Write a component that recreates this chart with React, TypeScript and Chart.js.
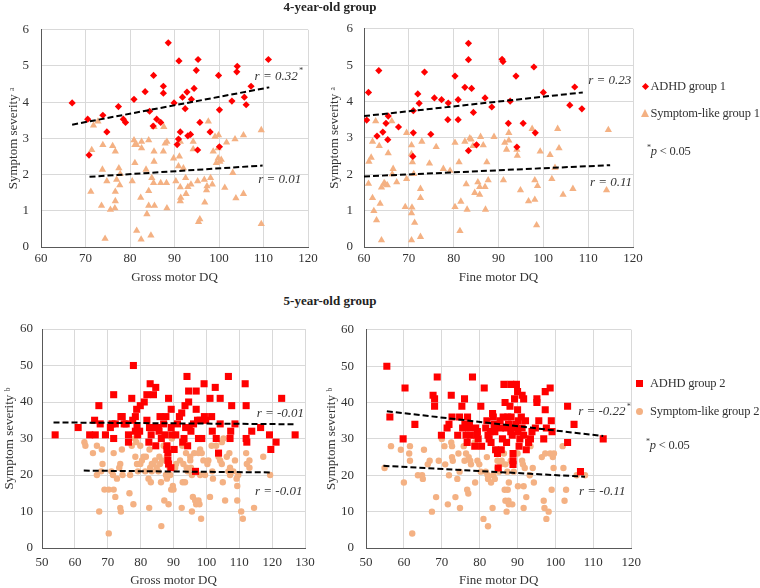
import React, { useEffect, useRef } from "react";
import { Chart, registerables } from "chart.js";

Chart.register(...registerables);
Chart.defaults.font.family = "'Liberation Serif', 'Times New Roman', serif";

// ---------------- DATA ----------------
const adhd4Gross: [number, number][] = [
  [67.0,3.98],[70.5,3.53],[70.8,2.54],[73.9,3.64],[74.8,3.18],[77.4,3.88],[78.5,3.53],[79.0,3.44],[80.9,4.08],[83.4,4.29],
  [84.4,3.75],[85.3,4.74],[85.2,3.34],[86.0,3.53],[86.9,3.44],[87.5,4.44],[87.5,4.25],[88.6,5.64],[89.9,3.98],[90.6,2.83],
  [90.9,2.98],[91.0,5.14],[91.3,3.18],[91.8,4.14],[92.4,3.82],[92.8,4.28],[93.0,3.07],[93.6,3.11],[93.8,4.08],[94.4,4.38],
  [94.9,4.88],[95.2,2.68],[95.3,5.18],[95.7,3.44],[98.0,3.18],[99.9,4.74],[100.1,3.79],[100.1,2.77],[102.9,4.03],[104.1,4.99],
  [104.0,4.84],[105.7,4.14],[106.1,3.93],[107.2,4.44],[111.1,5.18]
];
const sym4Gross: [number, number][] = [
  [71.8,3.36],[72.8,3.47],[71.4,2.68],[71.2,1.53],[73.9,2.82],[73.8,2.14],[73.6,1.14],[74.4,0.23],[74.8,1.82],[75.6,1.03],
  [76.1,2.79],[76.7,2.64],[76.7,1.53],[76.7,1.27],[76.6,1.07],[77.0,1.86],[77.5,2.18],[77.8,2.02],[77.7,1.71],[80.5,1.82],
  [80.9,2.95],[81.1,2.82],[81.5,2.82],[81.1,2.32],[81.5,0.45],[82.4,1.36],[82.6,2.91],[82.6,2.73],[82.5,0.21],[83.6,2.14],
  [83.8,0.91],[84.2,2.95],[84.2,1.55],[84.2,1.14],[84.7,0.32],[84.9,1.91],[85.3,1.77],[85.4,3.32],[85.4,2.64],[85.4,2.36],
  [85.5,1.14],[86.9,1.77],[87.5,2.64],[87.6,3.32],[87.9,2.86],[88.3,2.91],[88.2,1.77],[88.3,1.07],[89.8,2.45],[90.3,1.82],
  [91.1,2.50],[90.9,2.23],[91.3,2.91],[91.3,1.65],[91.4,1.36],[91.3,1.27],[92.0,2.18],[92.5,1.91],[92.6,1.47],[93.0,1.66],
  [93.7,1.73],[94.2,2.91],[94.2,2.70],[95.2,1.82],[95.4,0.69],[95.7,0.77],[96.7,1.86],[96.8,1.23],[97.2,1.57],[97.3,1.68],
  [97.6,3.47],[98.1,1.91],[98.5,1.73],[98.7,2.64],[99.1,3.05],[99.4,2.32],[99.9,3.09],[99.8,2.73],[99.8,2.45],[100.2,2.36],
  [100.5,2.41],[101.3,1.64],[101.7,2.89],[103.1,2.05],[103.6,2.98],[103.8,1.35],[105.5,3.09],[105.5,1.47],[109.5,3.23],[109.5,0.64]
];
const adhd4Fine: [number, number][] = [
  [60.6,3.49],[61.0,4.25],[63.3,4.85],[62.9,3.05],[64.2,3.16],[64.9,3.40],[65.4,3.60],[65.3,2.95],[67.7,3.30],[72.0,4.21],
  [72.3,3.95],[71.0,3.75],[71.0,3.14],[70.9,2.49],[73.5,4.81],[74.9,3.10],[75.7,4.10],[77.3,4.05],[78.7,3.50],[78.8,3.96],
  [80.3,4.70],[81.0,4.05],[81.0,3.50],[82.5,4.39],[83.3,5.60],[83.3,5.15],[83.3,2.65],[84.0,4.36],[84.4,3.70],[85.1,2.81],
  [87.0,4.10],[88.5,3.85],[90.8,5.16],[91.0,5.10],[92.2,3.40],[92.6,4.01],[93.9,4.70],[94.1,2.75],[95.5,3.40],[97.9,4.95],
  [98.2,3.14],[100.0,4.25],[105.9,3.90],[107.0,4.40],[108.6,3.80]
];
const sym4Fine: [number, number][] = [
  [62.6,3.46],[61.9,2.90],[63.4,2.78],[61.6,2.46],[61.1,2.35],[65.4,2.58],[66.5,2.15],[61.0,1.74],[64.5,1.76],[64.8,1.72],
  [65.2,1.70],[63.9,1.64],[67.3,1.78],[61.9,1.35],[63.6,1.19],[62.2,0.99],[62.8,0.74],[63.9,0.19],[66.2,3.46],[66.3,2.00],
  [69.5,3.14],[70.6,2.80],[70.6,2.56],[70.8,2.33],[71.1,2.01],[69.5,1.87],[69.2,1.10],[70.7,1.09],[70.6,0.93],[71.3,0.67],
  [70.6,0.19],[72.6,0.28],[72.6,1.35],[72.6,1.60],[72.9,2.90],[74.6,2.30],[76.1,2.75],[77.7,2.15],[79.2,2.10],[80.3,2.87],
  [80.3,1.10],[81.2,2.33],[81.4,0.44],[81.6,1.25],[82.5,2.90],[82.8,1.73],[83.0,1.03],[83.6,2.99],[83.9,2.96],[84.3,2.78],
  [85.4,1.78],[85.8,1.65],[85.8,1.44],[84.7,1.49],[86.0,3.03],[86.6,2.80],[87.0,1.65],[87.1,1.03],[87.4,2.33],[87.7,1.84],
  [89.0,3.03],[91.1,1.84],[91.4,2.87],[91.8,2.68],[92.3,3.14],[92.3,2.93],[94.1,2.68],[94.2,2.51],[94.9,1.56],[97.5,3.25],
  [98.1,1.84],[98.1,1.30],[96.7,1.26],[98.7,1.68],[98.5,0.60],[99.3,2.63],[101.5,2.53],[101.9,1.87],[102.6,2.18],[103.2,3.25],
  [103.5,2.72],[104.4,1.44],[106.6,1.60],[114.1,1.56],[114.5,3.22]
];
const adhd5Gross: [number, number][] = [
  [54,31],[61,33],[64.5,31],[66,35],[66.2,31],[67.3,39],[67.7,34],[69.3,31],[70.8,33],[71.3,34],
  [71.8,42],[71.8,30],[72.3,34],[74,36],[74.4,36],[75,34],[75.6,34],[76.3,31],[76.3,29],[77.3,41],
  [77.6,35],[77.8,50],[78.4,36],[78.8,38],[78.9,33],[78.4,32],[79.1,31],[79.9,39],[79.7,32],[81.1,40],
  [81.9,42],[81.9,35],[82.5,29],[82.7,33],[82.9,45],[83.2,31],[83.9,42],[84.3,33],[84.6,44],[84.6,28],
  [85.4,33],[85.6,32],[85.9,36],[86.3,30],[87,34],[87.4,31],[87.7,36],[88,28],[88,27],[88.3,26],
  [88.3,24],[88.5,41],[88.5,23],[89.2,22],[89.3,38],[89.3,33],[89.5,31],[90.2,27],[90.7,31],[91.2,34],
  [91.8,36],[92.5,37],[92.8,29],[93.2,30],[93.5,39],[93.7,33],[94.1,47],[94.6,40],[94.3,28],[94.6,43],
  [94.8,33],[95.3,32],[96.1,34],[96.7,21],[96.9,43],[96.9,38],[97.3,35],[97.6,30],[98.1,35],[98.6,30],
  [99.3,45],[99.4,36],[99.8,35],[101.1,41],[101.6,36],[101.8,32],[102.7,44],[103,30],[103.7,26],[104.2,41],
  [104.2,34],[106.7,47],[107.2,30],[107.4,32],[107.7,39],[108.7,34],[111.8,45],[112.1,39],[112.1,30],[112.3,29],
  [113.8,32],[116.5,33],[119.2,31],[119.6,27],[121.2,29],[122.9,41],[127,31]
];
const sym5Gross: [number, number][] = [
  [62.9,29],[63.2,28],[65.5,26],[66.7,28],[66.7,20],[67.4,10],[68.2,27],[68.4,23],[68,21],[69,16],
  [70.3,16],[70.3,4],[71.1,21],[71.6,20],[71.8,26],[71.8,16],[72.3,14],[72.8,19],[73.5,22],[73.8,23],
  [73.8,11],[74,10],[74.3,27],[74.5,20],[76.6,15],[76.8,20],[77.3,28],[77.8,12],[78.2,30],[78.7,29],
  [78.4,25],[78.9,23],[79.2,21],[79.9,28],[79.9,23],[80.4,24],[80.9,25],[81.6,25],[81.4,21],[82.4,19],
  [82.6,11],[82.9,22],[82.7,27],[83.1,18],[83.4,23],[83.4,21],[83.9,23],[84.4,24],[84.9,22],[85.4,21],
  [85.7,25],[85.9,23],[86.5,24],[86.2,18],[86.3,6],[87,28],[87.2,13],[87.7,20],[88,19],[88,25],
  [88.5,12],[88.8,22],[89,20],[89.3,16],[89.5,30],[89.8,17],[90,16],[90.5,22],[90.8,23],[92,24],
  [92.5,11],[92.7,28],[92.8,18],[93,23],[93.5,18],[93.8,26],[94,22],[94.3,21],[95.1,25],[95.1,24],
  [95.3,22],[95.6,20],[95.6,10],[95.9,14],[96.3,26],[96.6,13],[96.9,12],[97.6,26],[97.6,13],[97.9,12],
  [98.1,27],[98.1,20],[98.4,8],[98.6,26],[99.1,24],[99.6,20],[100.3,23],[100.6,24],[101.1,14],[101.6,28],
  [101.8,21],[102,19],[103,28],[103.7,25],[104.2,24],[104.7,23],[105,18],[104.7,29],[105.2,30],[105.7,13],
  [106.2,25],[106.7,21],[107,26],[107.2,22],[107.2,20],[108.2,21],[108.7,24],[109.2,19],[109.4,17],[109.4,13],
  [109.7,20],[110.6,10],[111.1,8],[112.1,26],[112.3,23],[113.1,24],[113.1,22],[114.5,11],[117.3,25],[119.4,20]
];
const adhd5Fine: [number, number][] = [
  [55.5,50],[56.3,36],[59.8,30],[60.3,44],[62.9,34],[67.7,42],[68.1,41],[68.1,39],[68.8,47],[69.9,31],
  [71.4,33],[71.9,34],[72.5,42],[72.7,36],[74.2,31],[74.7,36],[75.3,39],[75.5,33],[76.0,41],[76.1,34],
  [76.4,31],[76.7,29],[76.8,36],[77.1,33],[77.3,34],[77.5,31],[78.1,47],[78.7,28],[78.9,33],[79.2,31],
  [79.4,32],[79.6,30],[80.3,39],[80.5,28],[81.2,44],[81.6,33],[81.9,35],[82.2,31],[82.5,30],[82.8,32],
  [83.0,29],[83.4,37],[83.6,36],[83.8,34],[84,32],[84.2,27],[84.7,26],[84.9,22],[85.4,35],[85.5,33],
  [85.7,27],[86,30],[86.2,36],[86.4,45],[86.7,40],[86.9,33],[87.1,29],[87.4,36],[87.6,34],[88,39],
  [88.2,45],[88.2,32],[88.3,36],[88.6,31],[88.8,26],[88.8,24],[88.8,23],[89,33],[89.2,41],[89.5,34],
  [89.7,45],[90,43],[90,38],[90.1,32],[90.2,35],[90.4,28],[90.6,30],[91,36],[91.2,33],[91.2,42],
  [91.6,41],[91.6,31],[92.1,35],[92.3,27],[92.9,29],[93.4,30],[93.8,32],[94.7,33],[95.1,41],[95.1,40],
  [95.6,35],[96.9,30],[97.3,43],[97.3,38],[97.6,33],[98.6,44],[98.9,35],[99.1,32],[103.2,39],[103.2,29],
  [104.9,34],[106.6,21],[112.6,30]
];
const sym5Fine: [number, number][] = [
  [54.9,22],[56.6,28],[59.2,27],[60,18],[61.6,28],[61.4,26],[61.6,24],[62.2,4],[63.7,20],[64.8,20],
  [65,19],[65.3,27],[66.3,23],[66.8,24],[67.4,10],[68.5,14],[69.2,24],[70,30],[70.7,28],[70.9,23],
  [71.6,12],[71.9,20],[72.5,29],[72.7,28],[72.7,25],[72.9,24],[73.6,14],[74.1,19],[74.4,26],[74.7,21],
  [74.8,11],[75.8,28],[76,24],[76.4,26],[76.7,16],[77,15],[77.1,25],[77.5,24],[77.7,23],[78.7,29],
  [78.8,18],[79.4,24],[79.9,23],[80.3,21],[81,8],[81.6,21],[81.9,25],[82.1,20],[82.2,19],[82.2,6],
  [83,18],[83.4,11],[83.6,20],[84,19],[84.7,22],[84.7,24],[85.1,21],[85.5,23],[85.8,24],[86.2,30],
  [86.4,26],[86.6,16],[86.8,13],[86.8,23],[87.1,10],[87.3,21],[87.4,16],[87.6,13],[87.7,18],[87.7,12],
  [88.2,24],[88.6,12],[89,21],[90,26],[90.1,17],[91.2,24],[91.4,23],[91.6,17],[91.6,11],[91.9,22],
  [92.3,14],[93.2,20],[93.4,28],[94,22],[94.3,18],[96.4,25],[96.9,13],[97.1,11],[97.3,26],[97.6,8],
  [98.2,10],[98.6,26],[99,16],[99.3,25],[99.5,22],[99.6,26],[101.9,28],[102.1,22],[102.4,13],[102.8,16],
  [105.6,20],[107.8,20]
];

// fitted trend-line end points
const trendAdhd4Gross: [number, number][] = [[67, 3.38], [111.3, 4.41]];
const trendSym4Gross: [number, number][] = [[70.9, 1.94], [109.8, 2.25]];
const trendAdhd4Fine: [number, number][] = [[60, 3.6], [108.8, 4.25]];
const trendSym4Fine: [number, number][] = [[60, 1.94], [114.9, 2.25]];
const trendAdhd5Gross: [number, number][] = [[53.5, 34.4], [127, 33.9]];
const trendSym5Gross: [number, number][] = [[62.7, 21.2], [119.9, 20.7]];
const trendAdhd5Fine: [number, number][] = [[55.5, 37.6], [112.6, 30.8]];
const trendSym5Fine: [number, number][] = [[54.6, 22.6], [107.8, 19.6]];

const rText4Gross = ["r = 0.32", "r = 0.01"];
const rText4Fine = ["r = 0.23", "r = 0.11"];
const rText5Gross = ["r = -0.01", "r = -0.01"];
const rText5Fine = ["r = -0.22", "r = -0.11"];

const RED = "#FF0000";
const ORANGE = "#F4B183";
const TEXT = "#333333";

// ---------------- PLUGIN ----------------
const rLabelPlugin = {
  id: "rLabels",
  afterDatasetsDraw(chart: any, _args: any, opts: any) {
    const items = (opts && opts.items) || [];
    const { ctx, scales } = chart;
    ctx.save();
    ctx.fillStyle = TEXT;
    ctx.textBaseline = "middle";
    ctx.textAlign = "left";
    for (const it of items) {
      const px = scales.x.getPixelForValue(it.x);
      const py = scales.y.getPixelForValue(it.y);
      ctx.font = "italic 13px 'Liberation Serif'";
      ctx.fillText(it.text, px, py);
      if (it.star) {
        const w = ctx.measureText(it.text).width;
        ctx.font = "italic 8px 'Liberation Serif'";
        ctx.fillText("*", px + w + 1, py - 5);
      }
    }
    ctx.restore();
  },
};

type Spec = {
  left: number; top: number; w: number; h: number;
  padTop: number; padRight: number; yWidth: number; xHeight: number;
  yTitlePad: number; yTickPad: number; xTickPad: number; xTitlePad: number;
  xMin: number; xMax: number; yMax: number; yStep: number;
  xTitle: string; yTitle: string;
  adhd: [number, number][]; sym: [number, number][];
  tA: [number, number][]; tS: [number, number][];
  adhdStyle: string; adhdR: number; symStyle: string; symR: number;
  labels: { x: number; y: number; text: string; star?: boolean }[];
};

const toXY = (a: [number, number][]) => a.map(([x, y]) => ({ x, y }));

function Panel({ s }: { s: Spec }) {
  const ref = useRef<HTMLCanvasElement>(null);
  useEffect(() => {
    const font = { family: "'Liberation Serif', 'Times New Roman', serif", size: 13 };
    const chart = new Chart(ref.current!, {
      type: "scatter",
      data: {
        datasets: [
          { type: "line", data: toXY(s.tA), borderColor: "#000", borderWidth: 2, borderDash: [6, 3], pointRadius: 0, fill: false, order: 0 } as any,
          { type: "line", data: toXY(s.tS), borderColor: "#000", borderWidth: 2, borderDash: [6, 3], pointRadius: 0, fill: false, order: 0 } as any,
          { data: toXY(s.adhd), pointStyle: s.adhdStyle, pointRadius: s.adhdR, backgroundColor: RED, borderColor: RED, borderWidth: 0, order: 1 },
          { data: toXY(s.sym), pointStyle: s.symStyle, pointRadius: s.symR, backgroundColor: ORANGE, borderColor: ORANGE, borderWidth: 0, order: 2 },
        ],
      },
      options: {
        responsive: false,
        animation: false,
        events: [],
        layout: { padding: { left: 0, top: s.padTop, right: s.padRight, bottom: 0 } },
        plugins: {
          legend: { display: false },
          tooltip: { enabled: false },
          rLabels: { items: s.labels },
        } as any,
        scales: {
          x: {
            type: "linear",
            min: s.xMin, max: s.xMax,
            ticks: { stepSize: 10, color: TEXT, font, padding: s.xTickPad, maxRotation: 0 },
            grid: { color: "#D9D9D9", drawTicks: false },
            border: { color: "#595959", width: 1 },
            title: { display: true, text: s.xTitle, color: TEXT, font, padding: { top: 0, bottom: s.xTitlePad } },
            afterFit: (sc: any) => { sc.height = s.xHeight; },
          },
          y: {
            type: "linear",
            min: 0, max: s.yMax,
            ticks: { stepSize: s.yStep, color: TEXT, font, padding: s.yTickPad },
            grid: { color: "#D9D9D9", drawTicks: false },
            border: { color: "#595959", width: 1 },
            title: { display: true, text: s.yTitle, color: TEXT, font, padding: { top: s.yTitlePad, bottom: 0 } },
            afterFit: (sc: any) => { sc.width = s.yWidth; },
          },
        },
      },
      plugins: [rLabelPlugin],
    } as any);
    return () => chart.destroy();
  }, []);
  return (
    <canvas
      ref={ref}
      width={s.w}
      height={s.h}
      style={{ position: "absolute", left: s.left, top: s.top, width: s.w, height: s.h }}
    />
  );
}

const specs: Spec[] = [
  {
    left: 0, top: 10, w: 330, h: 280, padTop: 17, padRight: 22, yWidth: 41, xHeight: 43,
    yTitlePad: 5.5, yTickPad: 12, xTickPad: 4, xTitlePad: 5,
    xMin: 60, xMax: 120, yMax: 6, yStep: 1, xTitle: "Gross motor DQ", yTitle: "Symptom severity \u1D43",
    adhd: adhd4Gross, sym: sym4Gross, tA: trendAdhd4Gross, tS: trendSym4Gross,
    adhdStyle: "rectRot", adhdR: 3.6, symStyle: "triangle", symR: 4.2,
    labels: [
      { x: 108.0, y: 4.72, text: rText4Gross[0], star: true },
      { x: 108.8, y: 1.87, text: rText4Gross[1] },
    ],
  },
  {
    left: 323, top: 10, w: 325, h: 280, padTop: 17, padRight: 15, yWidth: 41, xHeight: 43,
    yTitlePad: 4.2, yTickPad: 11, xTickPad: 4, xTitlePad: 5,
    xMin: 60, xMax: 120, yMax: 6, yStep: 1, xTitle: "Fine motor DQ", yTitle: "Symptom severity \u1D43",
    adhd: adhd4Fine, sym: sym4Fine, tA: trendAdhd4Fine, tS: trendSym4Fine,
    adhdStyle: "rectRot", adhdR: 3.6, symStyle: "triangle", symR: 4.2,
    labels: [
      { x: 110.0, y: 4.58, text: rText4Fine[0] },
      { x: 110.4, y: 1.78, text: rText4Fine[1] },
    ],
  },
  {
    left: 0, top: 310, w: 325, h: 285, padTop: 19, padRight: 20, yWidth: 42, xHeight: 47,
    yTitlePad: 2.2, yTickPad: 9, xTickPad: 7, xTitlePad: 7,
    xMin: 50, xMax: 130, yMax: 60, yStep: 10, xTitle: "Gross motor DQ", yTitle: "Symptom severity \u1D47",
    adhd: adhd5Gross, sym: sym5Gross, tA: trendAdhd5Gross, tS: trendSym5Gross,
    adhdStyle: "rect", adhdR: 5, symStyle: "circle", symR: 3.2,
    labels: [
      { x: 115.3, y: 36.7, text: rText5Gross[0] },
      { x: 114.8, y: 15.4, text: rText5Gross[1] },
    ],
  },
  {
    left: 324, top: 310, w: 324, h: 285, padTop: 19, padRight: 15, yWidth: 42, xHeight: 47,
    yTitlePad: 0, yTickPad: 12, xTickPad: 7, xTitlePad: 7,
    xMin: 50, xMax: 120, yMax: 60, yStep: 10, xTitle: "Fine motor DQ", yTitle: "Symptom severity \u1D47",
    adhd: adhd5Fine, sym: sym5Fine, tA: trendAdhd5Fine, tS: trendSym5Fine,
    adhdStyle: "rect", adhdR: 5, symStyle: "circle", symR: 3.2,
    labels: [
      { x: 106.0, y: 37.4, text: rText5Fine[0], star: true },
      { x: 106.2, y: 15.5, text: rText5Fine[1] },
    ],
  },
];

const serif = "'Liberation Serif', 'Times New Roman', serif";
const txt = (left: number, cy: number, content: React.ReactNode, extra: any = {}) => (
  <div style={{ position: "absolute", left, top: cy - 8, height: 16, lineHeight: "16px", fontSize: 12.5, letterSpacing: "-0.2px", fontFamily: serif, color: TEXT, whiteSpace: "nowrap", ...extra }}>
    {content}
  </div>
);

export default function App() {
  return (
    <div style={{ position: "absolute", left: 0, top: 0, width: 760, height: 588, background: "#fff", overflow: "hidden" }}>
      {specs.map((s, i) => <Panel key={i} s={s} />)}
      {/* group titles */}
      <div style={{ position: "absolute", left: 230, width: 200, top: 0, lineHeight: "14px", textAlign: "center", fontWeight: "bold", fontSize: 13, fontFamily: serif, color: "#222" }}>4-year-old group</div>
      <div style={{ position: "absolute", left: 230, width: 200, top: 294, lineHeight: "14px", textAlign: "center", fontWeight: "bold", fontSize: 13, fontFamily: serif, color: "#222" }}>5-year-old group</div>
      {/* legend 1 */}
      <div style={{ position: "absolute", left: 642.5, top: 83.5, width: 5, height: 5, background: RED, transform: "rotate(45deg)" }} />
      {txt(650.5, 86, "ADHD group 1")}
      <div style={{ position: "absolute", left: 640.5, top: 109, width: 0, height: 0, borderLeft: "4.5px solid transparent", borderRight: "4.5px solid transparent", borderBottom: "8px solid " + ORANGE }} />
      {txt(650.5, 113, "Symptom-like group 1")}
      {txt(647, 148, <span><sup style={{ fontSize: 8 }}>*</sup><i>p</i> &lt; 0.05</span>)}
      {/* legend 2 */}
      <div style={{ position: "absolute", left: 636, top: 380, width: 7, height: 7, background: RED }} />
      {txt(650, 383, "ADHD group 2")}
      <div style={{ position: "absolute", left: 636, top: 408, width: 7, height: 7, borderRadius: "50%", background: ORANGE }} />
      {txt(650, 411, "Symptom-like group 2")}
      {txt(646, 442, <span><sup style={{ fontSize: 8 }}>*</sup><i>p</i> &lt; 0.05</span>)}
    </div>
  );
}
